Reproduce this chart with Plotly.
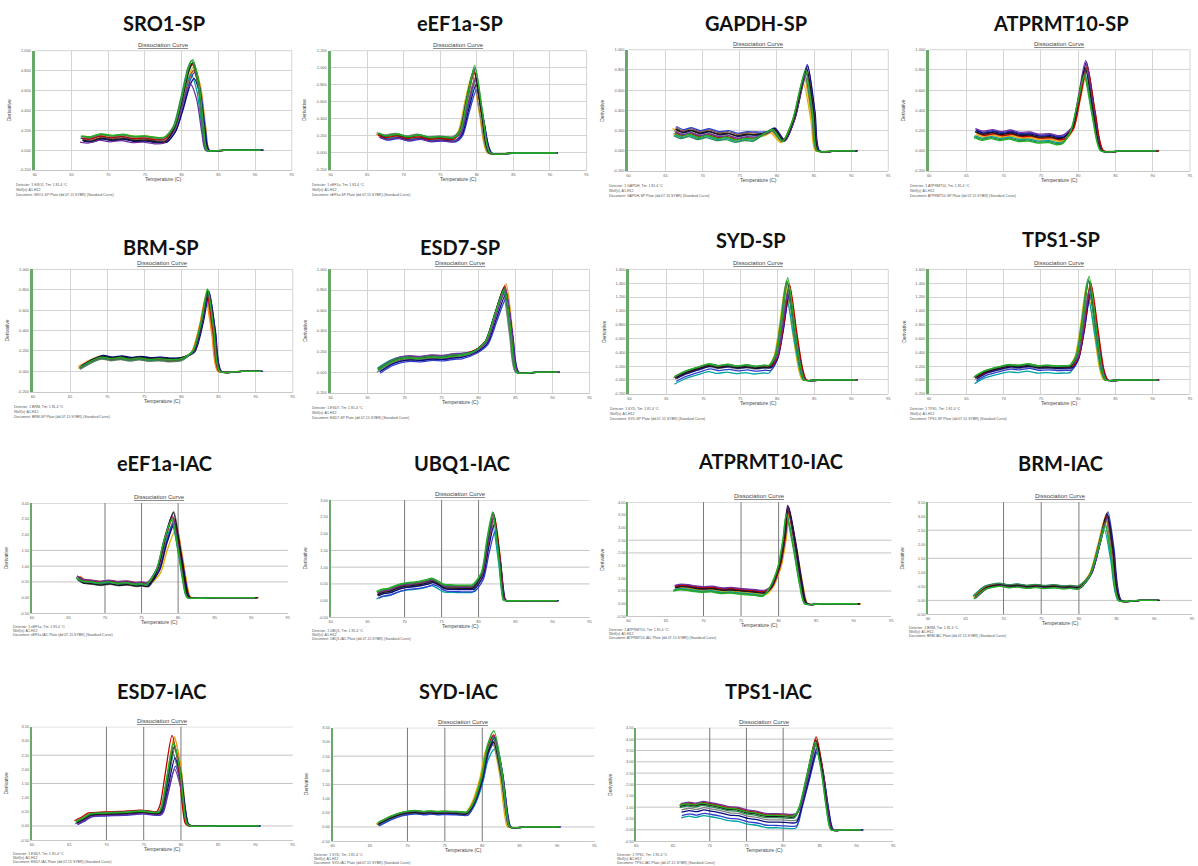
import plotly.graph_objects as go

W, H = 1198, 866

# ---------------- data (derivative in grid units, temperature in deg C) -------------
TITLES = ["SRO1-SP", "eEF1a-SP", "GAPDH-SP", "ATPRMT10-SP",
          "BRM-SP", "ESD7-SP", "SYD-SP", "TPS1-SP",
          "eEF1a-IAC", "UBQ1-IAC", "ATPRMT10-IAC", "BRM-IAC",
          "ESD7-IAC", "SYD-IAC", "TPS1-IAC"]
KIND = ["SP"] * 8 + ["IAC"] * 7
X_TICKS = [60, 65, 70, 75, 80, 85, 90, 95]
Y_TOP = [5, 6, 5, 5, 5, 5, 8, 8, 6, 6, 8, 7, 7, 7, 9]
ONSET = [77.8, 76.8, 77.0, 78.1, 80.0, 77.5, 79.0, 79.0,
         75.9, 79.25, 78.15, 80.0, 77.0, 77.9, 81.6]

T_SRO1_SP = [66.4, 67.5, 69.0, 70.5, 72.0, 73.5, 75.0, 76.5, 77.8, 79.0, 80.0, 81.0, 81.5, 82.3, 83.0, 83.5, 86.0, 90.9]
V_SRO1_SP = [0.60, 0.55, 0.70, 0.62, 0.68, 0.58, 0.60, 0.52, 0.55, 1.20, 2.60, 4.20, 4.55, 3.50, 1.20, 0.00, 0.00, 0.00]
T_EEF_SP = [66.5, 67.5, 69.0, 70.5, 72.0, 73.5, 75.0, 76.8, 77.75, 78.65, 79.65, 80.7, 81.75, 85.0, 90.8]
V_EEF_SP = [1.05, 0.90, 1.00, 0.85, 0.95, 0.80, 0.85, 0.80, 1.40, 3.30, 5.10, 2.40, 0.00, 0.00, 0.00]
T_GAPDH_SP = [66.25, 67.2, 68.3, 69.5, 70.7, 72.0, 73.3, 74.5, 75.8, 77.0, 78.5, 79.5, 80.85, 82.25, 83.3, 83.9, 84.9, 85.5, 88.0, 90.65]
V_GAPDH_SP = [0.95, 0.80, 0.90, 0.75, 0.85, 0.70, 0.75, 0.62, 0.70, 0.68, 0.95, 1.13, 0.52, 1.70, 3.50, 4.28, 1.90, 0.00, 0.00, 0.00]
T_ATP_SP = [66.2, 67.3, 68.5, 69.7, 70.9, 72.2, 73.5, 74.8, 76.2, 77.3, 78.1, 79.2, 80.1, 81.0, 82.1, 83.2, 86.0, 90.65]
V_ATP_SP = [0.85, 0.72, 0.80, 0.70, 0.78, 0.66, 0.68, 0.58, 0.60, 0.50, 0.55, 1.20, 2.85, 4.46, 2.00, 0.00, 0.00, 0.00]
T_BRM_SP = [66.35, 67.9, 69.25, 70.5, 71.8, 73.0, 74.3, 75.6, 77.0, 78.5, 80.0, 81.55, 82.7, 83.5, 84.35, 85.15, 88.0, 90.75]
V_BRM_SP = [0.18, 0.50, 0.68, 0.60, 0.66, 0.58, 0.64, 0.57, 0.60, 0.55, 0.60, 1.00, 2.50, 4.00, 2.00, 0.00, 0.00, 0.00]
T_ESD7_SP = [66.45, 68.0, 69.3, 70.5, 72.0, 73.5, 75.0, 76.5, 77.5, 79.5, 81.0, 82.25, 83.5, 84.4, 85.2, 88.0, 90.75]
V_ESD7_SP = [0.10, 0.45, 0.62, 0.68, 0.65, 0.72, 0.70, 0.78, 0.80, 1.10, 1.60, 3.00, 4.30, 2.00, 0.00, 0.00, 0.00]
T_SYD_SP = [66.2, 67.5, 69.5, 70.8, 72.0, 73.3, 74.5, 75.8, 77.0, 78.2, 79.0, 79.85, 80.6, 81.4, 82.4, 83.2, 83.7, 86.0, 90.65]
V_SYD_SP = [0.15, 0.50, 0.85, 1.05, 0.92, 1.02, 0.90, 0.98, 0.88, 0.95, 0.95, 1.85, 4.30, 7.40, 3.60, 0.80, 0.00, 0.00, 0.00]
T_TPS1_SP = [66.2, 67.5, 69.5, 70.8, 72.0, 73.3, 74.5, 75.8, 77.0, 78.2, 79.0, 79.85, 80.6, 81.45, 82.45, 83.2, 83.75, 86.0, 90.65]
V_TPS1_SP = [0.15, 0.55, 0.85, 1.00, 0.95, 1.05, 0.92, 0.95, 0.90, 0.92, 0.95, 1.80, 4.20, 7.50, 3.70, 0.80, 0.00, 0.00, 0.00]
T_EEF_IAC = [66.25, 67.0, 68.2, 69.4, 70.6, 71.8, 73.0, 74.2, 75.0, 75.9, 77.25, 78.2, 79.3, 80.25, 81.15, 81.45, 85.0, 90.7]
V_EEF_IAC = [1.27, 1.05, 1.00, 0.92, 1.00, 0.90, 0.95, 0.85, 0.88, 0.85, 2.00, 3.90, 5.45, 3.05, 0.30, 0.00, 0.00, 0.00]
T_UBQ1_IAC = [66.3, 67.2, 68.0, 69.0, 70.0, 71.0, 72.0, 73.0, 73.75, 74.5, 75.35, 76.5, 77.5, 78.5, 79.25, 80.45, 81.25, 82.0, 82.8, 83.45, 83.75, 86.0, 90.65]
V_UBQ1_IAC = [0.40, 0.55, 0.60, 0.78, 0.90, 0.95, 1.00, 1.10, 1.20, 1.05, 0.83, 0.80, 0.78, 0.78, 0.80, 1.65, 3.75, 5.30, 2.70, 0.05, 0.00, 0.00, 0.00]
T_ATP_IAC = [66.15, 67.1, 68.0, 69.0, 70.0, 71.2, 72.5, 73.7, 75.0, 76.0, 77.0, 78.15, 79.0, 80.1, 80.75, 81.2, 82.1, 83.0, 83.65, 86.0, 90.7]
V_ATP_IAC = [1.25, 1.35, 1.30, 1.20, 1.15, 1.18, 1.05, 1.08, 1.00, 0.95, 0.90, 0.85, 1.40, 3.20, 5.50, 7.75, 5.00, 1.60, 0.00, 0.00, 0.00]
T_BRM_IAC = [66.15, 67.7, 69.6, 70.8, 72.0, 73.2, 74.4, 75.6, 76.8, 78.0, 79.0, 80.0, 81.5, 82.7, 83.6, 84.4, 85.4, 88.0, 90.5]
V_BRM_IAC = [0.20, 0.90, 1.10, 1.00, 1.05, 0.95, 1.02, 0.94, 1.00, 0.92, 0.95, 0.90, 2.00, 4.40, 6.30, 3.70, 0.00, 0.00, 0.00]
T_ESD7_IAC = [65.9, 67.0, 67.8, 69.4, 70.7, 72.0, 73.4, 74.75, 76.0, 77.0, 77.4, 78.1, 79.0, 79.85, 80.75, 81.2, 85.0, 90.45]
V_ESD7_IAC = [0.25, 0.55, 0.80, 0.85, 0.88, 0.90, 0.95, 1.00, 0.92, 0.92, 1.40, 3.50, 6.00, 4.00, 0.20, 0.00, 0.00, 0.00]
T_SYD_IAC = [66.05, 67.75, 69.05, 70.0, 71.0, 72.0, 73.0, 74.0, 75.0, 76.5, 77.9, 78.8, 79.9, 80.65, 81.5, 82.55, 83.25, 83.65, 86.0, 90.3]
V_SYD_IAC = [0.20, 0.65, 0.90, 1.00, 1.05, 0.98, 1.02, 0.98, 1.00, 0.98, 0.95, 1.80, 3.70, 5.80, 6.80, 4.10, 0.90, 0.00, 0.00, 0.00]
T_TPS1_IAC = [65.95, 67.0, 68.0, 69.0, 70.0, 71.2, 72.5, 73.7, 75.0, 76.2, 77.5, 78.8, 80.0, 81.6, 82.3, 83.4, 84.45, 85.25, 86.0, 86.6, 88.5, 90.7]
V_TPS1_IAC = [2.05, 2.20, 2.10, 2.25, 2.15, 2.00, 1.80, 1.75, 1.50, 1.40, 1.20, 1.18, 1.15, 1.15, 2.20, 5.40, 8.20, 5.70, 1.90, 0.00, 0.00, 0.00]

TEMPS = [T_SRO1_SP, T_EEF_SP, T_GAPDH_SP, T_ATP_SP, T_BRM_SP, T_ESD7_SP, T_SYD_SP, T_TPS1_SP,
         T_EEF_IAC, T_UBQ1_IAC, T_ATP_IAC, T_BRM_IAC, T_ESD7_IAC, T_SYD_IAC, T_TPS1_IAC]
VALUES = [V_SRO1_SP, V_EEF_SP, V_GAPDH_SP, V_ATP_SP, V_BRM_SP, V_ESD7_SP, V_SYD_SP, V_TPS1_SP,
          V_EEF_IAC, V_UBQ1_IAC, V_ATP_IAC, V_BRM_IAC, V_ESD7_IAC, V_SYD_IAC, V_TPS1_IAC]

# replicate wells: peak height, Tm shift, pre-melt baseline offset (one entry per well colour)
PEAKS = [
    [4.2, 4.1, 4.0, 3.8, 4.3, 3.9, 3.6, 4.35, 3.3, 4.4, 4.5, 4.55],
    [4.6, 4.8, 4.4, 4.2, 4.5, 3.7, 4.0, 4.7, 4.3, 4.9, 5.0, 5.13],
    [3.3, 3.6, 3.8, 3.9, 3.7, 4.28, 4.2, 3.9, 4.0, 4.1, 3.8, 4.0],
    [3.9, 4.0, 4.1, 3.8, 4.0, 4.3, 4.4, 4.2, 4.46, 4.1, 3.8, 3.7],
    [3.7, 3.6, 3.75, 3.8, 3.9, 3.95, 3.85, 3.8, 3.9, 3.95, 4.0, 4.05],
    [4.0, 4.3, 4.1, 3.9, 3.8, 3.6, 3.8, 4.2, 4.0, 4.1, 3.95, 4.05],
    [6.8, 7.0, 6.6, 5.8, 6.4, 5.9, 6.2, 6.9, 6.5, 7.1, 7.2, 7.4],
    [6.9, 7.1, 6.7, 5.9, 6.5, 6.0, 6.3, 7.0, 6.6, 7.2, 7.3, 7.5],
    [4.3, 4.9, 5.0, 4.6, 5.45, 4.8, 4.7, 5.1, 5.2, 5.4, 4.9, 5.0],
    [4.8, 5.0, 4.9, 4.5, 4.7, 4.1, 4.6, 5.1, 5.0, 5.25, 5.2, 5.3],
    [7.1, 7.2, 7.3, 7.0, 7.4, 7.5, 7.6, 7.3, 7.75, 7.7, 7.1, 7.0],
    [5.9, 6.0, 5.8, 5.0, 5.7, 6.3, 6.1, 6.0, 5.9, 6.2, 5.5, 5.3],
    [6.2, 6.3, 5.5, 5.0, 5.2, 4.2, 4.8, 6.4, 4.0, 5.6, 5.8, 5.9],
    [6.2, 6.4, 6.0, 5.5, 5.8, 6.1, 6.3, 6.5, 6.4, 6.0, 6.3, 6.8],
    [7.8, 8.0, 7.6, 6.8, 7.4, 7.0, 7.2, 8.2, 7.6, 7.9, 7.5, 7.7],
]
SHIFTS = [
    [0.15, 0.3, 0.1, -0.2, 0.0, 0.25, 0.2, -0.1, -0.25, 0.05, -0.15, 0.0],
    [-0.3, -0.1, 0.1, 0.2, -0.2, 0.3, 0.25, 0.0, 0.15, -0.05, 0.1, 0.05],
    [-0.3, -0.2, 0.1, 0.0, -0.1, 0.2, 0.25, 0.05, 0.15, 0.1, -0.15, -0.05],
    [0.1, 0.2, 0.15, -0.1, 0.0, 0.05, 0.1, 0.2, 0.0, -0.05, -0.15, -0.2],
    [-0.2, -0.25, -0.1, 0.1, 0.0, 0.2, 0.25, -0.05, 0.15, 0.1, 0.05, 0.0],
    [0.1, 0.2, 0.0, -0.1, -0.2, 0.25, 0.2, 0.05, 0.15, -0.05, -0.1, 0.0],
    [-0.3, 0.2, 0.1, -0.1, 0.0, 0.15, 0.2, 0.25, 0.1, -0.05, -0.15, 0.0],
    [-0.3, 0.2, 0.1, -0.1, 0.0, 0.15, 0.2, 0.25, 0.1, -0.05, -0.15, 0.0],
    [0.35, 0.3, 0.2, -0.1, 0.1, 0.15, 0.2, 0.0, -0.1, 0.05, -0.2, -0.15],
    [0.1, 0.15, 0.0, -0.1, 0.05, 0.2, 0.15, 0.1, 0.05, 0.0, -0.05, -0.1],
    [0.25, 0.2, 0.15, -0.1, 0.0, 0.1, 0.15, 0.05, 0.0, 0.05, -0.15, -0.2],
    [-0.1, -0.05, 0.0, -0.2, 0.05, 0.25, 0.2, 0.1, 0.15, 0.1, -0.15, -0.1],
    [0.15, 0.1, 0.2, 0.0, -0.1, 0.25, 0.2, -0.2, 0.15, 0.1, 0.05, 0.0],
    [-0.25, -0.1, 0.0, 0.1, -0.05, 0.2, 0.15, 0.05, 0.1, 0.0, 0.0, 0.05],
    [0.1, 0.05, 0.0, 0.15, 0.2, 0.25, 0.2, 0.05, 0.1, 0.0, -0.05, -0.1],
]
OFFSETS = [
    [0.05, 0.10, -0.05, 0.0, 0.08, -0.12, -0.15, 0.0, -0.20, -0.10, 0.10, 0.12],
    [0.05, 0.0, 0.10, -0.05, 0.15, -0.15, -0.10, 0.0, -0.12, 0.08, 0.12, 0.10],
    [0.15, -0.10, 0.20, -0.15, 0.05, 0.25, 0.10, -0.05, 0.0, 0.12, -0.20, -0.08],
    [-0.05, 0.0, 0.05, -0.10, 0.10, 0.20, 0.15, 0.05, 0.25, 0.10, -0.15, -0.20],
    [-0.05, 0.05, 0.0, 0.08, -0.08, 0.05, 0.10, -0.03, 0.03, 0.06, -0.05, 0.02],
    [0.0, 0.05, -0.05, 0.10, -0.10, -0.15, -0.08, 0.08, 0.12, 0.02, 0.06, 0.0],
    [0.0, 0.05, -0.05, -0.45, -0.10, -0.25, -0.05, 0.05, 0.10, -0.02, 0.08, 0.12],
    [0.02, 0.06, -0.04, -0.42, -0.12, -0.22, -0.06, 0.04, 0.10, 0.0, 0.08, 0.12],
    [0.05, 0.10, -0.05, -0.10, -0.15, 0.0, 0.05, 0.08, 0.12, -0.12, 0.02, 0.0],
    [0.0, 0.05, 0.08, -0.30, -0.10, -0.25, -0.12, 0.05, 0.02, -0.05, 0.10, 0.15],
    [-0.10, 0.0, 0.05, -0.15, 0.10, 0.15, 0.05, 0.10, 0.20, 0.0, -0.20, -0.25],
    [0.0, 0.05, -0.05, 0.10, -0.08, 0.05, 0.0, 0.08, -0.03, 0.02, 0.12, -0.10],
    [0.05, 0.10, 0.0, -0.05, -0.10, -0.15, -0.08, 0.12, -0.12, -0.02, 0.08, 0.04],
    [0.0, 0.05, -0.05, -0.10, -0.08, -0.12, 0.05, 0.10, 0.02, -0.03, 0.08, 0.12],
    [0.10, 0.20, 0.05, -1.00, -0.30, -0.80, -0.50, 0.15, 0.25, 0.0, -0.10, 0.10],
]
WELL_COLORS = ["#d9b300", "#ff8c1a", "#8c564b", "#00a3a3", "#808080", "#2f3fd0",
               "#0a0a80", "#c00000", "#7030a0", "#1a1a1a", "#2e8b57", "#22b022"]

IAC_VLINES = [70, 75, 80]
IAC_HLINES = [None] * 8 + [[1, 2, 3, 6], [1, 2, 3, 6], [1, 4, 5, 8], [0, 3, 5, 7],
                           [0, 3, 5, 7], [0, 3, 5, 7], [0, 2, 4, 5, 6, 7, 8, 9]]

# ---------------- layout (pixel boxes of plot areas: left, right, top, bottom) -----------
BOXES = [(33, 291, 48, 168), (330, 587, 48, 168), (629, 890, 47, 169), (931, 1193, 47, 169),
         (31, 292, 268, 391), (330, 590, 268, 392), (630, 890, 268, 393), (931, 1193, 268, 393),
         (30, 287, 503, 614), (330, 590, 500, 618), (629, 893, 502, 617), (930, 1195, 502, 615),
         (30, 292, 728, 842), (332, 595, 729, 843), (637, 895, 729, 843)]
TITLE_POS = [(163, 20), (460, 20), (757, 20), (1063, 20),
             (160, 245), (460, 245), (752, 238), (1063, 237),
             (163, 463), (462, 463), (772, 461), (1063, 463),
             (160, 692), (458, 692), (770, 692)]


def px(x):
    return x / W


def py(y):
    return 1 - y / H


fig = go.Figure()
layout = dict(width=W, height=H, margin=dict(l=0, r=0, t=0, b=0),
              paper_bgcolor="white", plot_bgcolor="white", showlegend=False)
shapes, annotations = [], []

for k in range(15):
    n = k + 1
    suf = "" if n == 1 else str(n)
    xa, ya = f"x{suf}", f"y{suf}"
    T, V = TEMPS[k], VALUES[k]
    vmax = max(V)
    for c in range(len(WELL_COLORS)):
        f = PEAKS[k][c] / vmax
        xs = [t + SHIFTS[k][c] for t in T]
        ys = [v + OFFSETS[k][c] if t <= ONSET[k] else v * f for t, v in zip(T, V)]
        fig.add_trace(go.Scatter(x=xs, y=ys, mode="lines", xaxis=xa, yaxis=ya,
                                 line=dict(color=WELL_COLORS[c], width=1.3, shape="spline", smoothing=0.7),
                                 hoverinfo="skip"))
    l, r, t, b = BOXES[k]
    sp = KIND[k] == "SP"
    ytop = Y_TOP[k]
    yvals = list(range(-1, ytop + 1))
    ytext = [f"{v * 0.2:.3f}" if sp else f"{v * 0.5:.2f}" for v in yvals]
    tick_font = dict(size=4, color="#666666", family="Liberation Sans")
    layout[f"xaxis{suf}"] = dict(
        domain=[px(l), px(r)], anchor=ya, range=[60, 95], tickvals=X_TICKS,
        ticktext=[str(v) for v in X_TICKS], tickfont=tick_font, ticks="",
        showgrid=sp, gridcolor="#d4d4d4", gridwidth=1, zeroline=False,
        showline=True, linecolor="#c8c8c8", linewidth=1, fixedrange=True)
    layout[f"yaxis{suf}"] = dict(
        domain=[py(b), py(t)], anchor=xa, range=[-1, ytop], tickvals=yvals,
        ticktext=ytext, tickfont=tick_font, ticks="",
        showgrid=sp, gridcolor="#d4d4d4", gridwidth=1, zeroline=False,
        showline=True, linecolor="#6aa86a", linewidth=3 if sp else 1.5, fixedrange=True)
    if sp:
        shapes.append(dict(type="line", xref=f"{xa} domain", yref=f"{ya} domain",
                           x0=1, x1=1, y0=0, y1=1, line=dict(color="#d4d4d4", width=1)))
        shapes.append(dict(type="line", xref=f"{xa} domain", yref=f"{ya} domain",
                           x0=0, x1=1, y0=1, y1=1, line=dict(color="#d4d4d4", width=1)))
    else:
        for hv in IAC_HLINES[k]:
            shapes.append(dict(type="line", xref=f"{xa} domain", yref=ya, x0=0, x1=1,
                               y0=hv, y1=hv, line=dict(color="#c4c4c4", width=1), layer="below"))
        for vv in IAC_VLINES:
            shapes.append(dict(type="line", xref=xa, yref=f"{ya} domain", x0=vv, x1=vv,
                               y0=0, y1=1, line=dict(color="#7a7a7a", width=1), layer="below"))

    gene = TITLES[k].split("-")[0]
    tx, ty = TITLE_POS[k]
    annotations.append(dict(text=f"<b>{TITLES[k]}</b>", x=px(tx), y=py(ty), xref="paper", yref="paper",
                            showarrow=False, xanchor="center", yanchor="middle",
                            font=dict(size=20, color="#111111", family="Lato, sans-serif")))
    cx = (l + r) / 2
    annotations.append(dict(text="<u>Dissociation Curve</u>", x=px(cx), y=py(t - 6), xref="paper", yref="paper",
                            showarrow=False, xanchor="center", yanchor="middle",
                            font=dict(size=6, color="#444444", family="Liberation Sans")))
    annotations.append(dict(text="Temperature (C)", x=px(cx), y=py(b + 9), xref="paper", yref="paper",
                            showarrow=False, xanchor="center", yanchor="middle",
                            font=dict(size=5, color="#444444", family="Liberation Sans")))
    annotations.append(dict(text="Derivative", x=px(l - 26), y=py((t + b) / 2), xref="paper", yref="paper",
                            showarrow=False, textangle=-90, xanchor="center", yanchor="middle",
                            font=dict(size=5, color="#444444", family="Liberation Sans")))
    footer_lines = [f"Detector: 1 {gene}, Tm: 1 81.4 °C", "Well(s): A1-H12",
                    f"Document: {gene}-{KIND[k]} Plate (dd 07-15 SYBR) (Standard Curve)"]
    gap = 5 if sp else 4
    start = 15 if sp else 14
    for i, line in enumerate(footer_lines):
        annotations.append(dict(text=line, x=px(l - 21), y=py(b + start + gap * i), xref="paper", yref="paper",
                                showarrow=False, xanchor="left", yanchor="middle", align="left",
                                font=dict(size=3.5, color="#555555", family="Liberation Sans")))

layout["shapes"] = shapes
layout["annotations"] = annotations
fig.update_layout(**layout)
fig.write_html("out.html", config={"displayModeBar": False},
               post_script="document.body.style.margin='0';")
